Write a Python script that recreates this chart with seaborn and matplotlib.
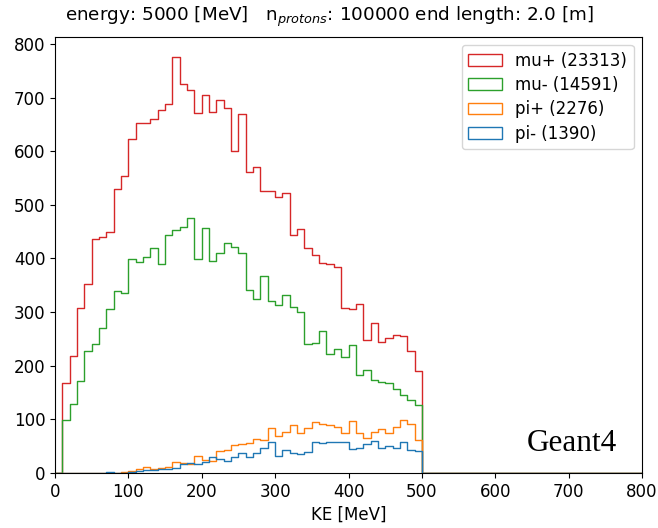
import numpy as np
import pandas as pd
import matplotlib
matplotlib.use("Agg")
import matplotlib.pyplot as plt
from matplotlib.patches import Patch
import seaborn as sns

plt.rcParams["font.size"] = 12

# Kinetic-energy binning: 10 MeV bins from 0 to 800 MeV
bin_width = 10
ke_range = (0, 800)
bin_lo = np.arange(0, 500, 10)  # lower edges of the populated bins (0..490)

# Counts per 10 MeV bin, bins 0-10 ... 490-500
mu_plus = [0, 167, 218, 307, 352, 437, 441, 450, 530, 554,
           622, 653, 653, 660, 677, 689, 775, 725, 714, 671,
           705, 673, 695, 681, 600, 669, 561, 571, 525, 526,
           514, 523, 443, 455, 420, 407, 392, 390, 384, 308,
           306, 316, 247, 279, 245, 252, 258, 256, 227, 190]

mu_minus = [0, 98, 128, 172, 228, 240, 270, 305, 340, 336,
            399, 394, 403, 419, 390, 443, 453, 458, 475, 399,
            456, 396, 411, 429, 421, 411, 342, 325, 367, 321,
            314, 331, 309, 301, 240, 243, 265, 222, 232, 217,
            238, 183, 192, 174, 170, 167, 157, 145, 136, 126]

pi_plus = [0, 0, 0, 0, 0, 0, 0, 0, 0, 2,
           4, 7, 11, 8, 9, 11, 21, 19, 17, 32,
           24, 22, 40, 42, 52, 54, 56, 64, 62, 84,
           68, 76, 90, 74, 84, 95, 91, 90, 85, 75,
           97, 75, 65, 76, 81, 75, 85, 99, 92, 62]

pi_minus = [0, 0, 0, 0, 0, 0, 0, 2, 0, 0,
            2, 4, 5, 6, 7, 8, 9, 17, 18, 17,
            20, 30, 25, 23, 29, 38, 29, 38, 46, 57,
            32, 43, 38, 35, 39, 58, 56, 57, 57, 57,
            44, 47, 53, 59, 47, 51, 46, 57, 43, 41]

particles = ["mu+", "mu-", "pi+", "pi-"]
series = [mu_plus, mu_minus, pi_plus, pi_minus]
colors = ["#d62728", "#2ca02c", "#ff7f0e", "#1f77b4"]

fig = plt.figure(figsize=(6.58, 5.28), dpi=100)
ax = fig.add_axes([55 / 658, 1 - 472.9 / 528, 587 / 658, 436.2 / 528])

handles = []
for name, counts, col in zip(particles, series, colors):
    df = pd.DataFrame({"KE": bin_lo + 5.0, "count": np.asarray(counts, float)})
    sns.histplot(data=df, x="KE", weights="count", binwidth=bin_width,
                 binrange=ke_range, element="step", fill=False, color=col,
                 linewidth=1.0, ax=ax)
    handles.append(Patch(facecolor="none", edgecolor=col,
                         label=f"{name} ({int(np.sum(counts))})"))

peak = max(max(s) for s in series)
ax.set_xlim(*ke_range)
ax.set_ylim(0, peak * 1.05)
ax.set_xticks(np.arange(0, 801, 100))
ax.set_yticks(np.arange(0, 801, 100))
ax.tick_params(labelsize=12)
ax.set_xlabel("KE [MeV]", fontsize=12)
ax.set_ylabel("")
ax.legend(handles=handles, loc="upper right", fontsize=12, labelspacing=0.38)

ax.text(0.957, 0.05, "Geant4", transform=ax.transAxes, ha="right",
        va="baseline", fontsize=22.5, family="Liberation Serif")

fig.suptitle(r"energy: 5000 [MeV]   n$_{protons}$: 100000 end length: 2.0 [m]",
             fontsize=13.2, y=0.99, va="top")

fig.savefig("out.png", dpi=100)
